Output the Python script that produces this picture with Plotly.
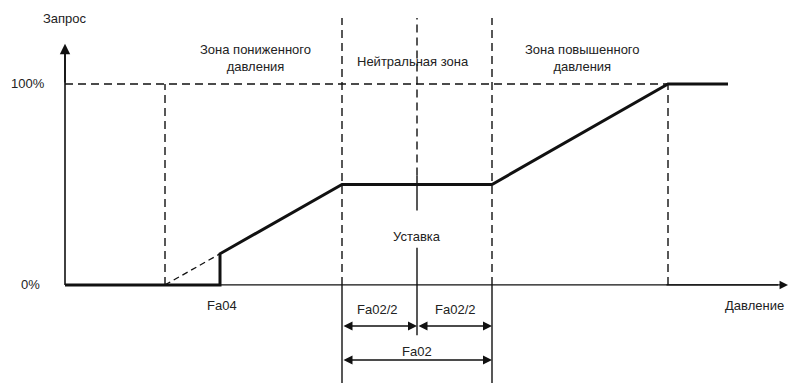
import plotly.graph_objects as go

# давление (условные единицы), запрос в %
x_curve = [0, 155, 155, 277, 427, 603, 663]
y_curve = [0, 0, 15.5, 50, 50, 100, 100]
x_ext = [100, 155]
y_ext = [0, 15.5]

x_low = 100        # начало зоны пониженного давления
x_fa04 = 155
x_nl = 277         # левая граница нейтральной зоны
x_set = 352        # уставка
x_nr = 427         # правая граница нейтральной зоны
x_full = 603       # 100 %
x_end = 723
y_top = 132.8
y_bot = -55

BLK = "#111"
FONT = dict(family="Liberation Sans, Arial", size=13, color="#222")
DASH = "8px,5px"

fig = go.Figure()

def line(xs, ys, width=1.4, dash="solid"):
    fig.add_trace(go.Scatter(x=xs, y=ys, mode="lines", hoverinfo="skip",
                             line=dict(color=BLK, width=width, dash=dash)))

# пунктирные вспомогательные линии
line([0, x_full], [100, 100], dash=DASH)
line([x_low, x_low], [0, 100], dash=DASH)
line([x_full, x_full], [0, 100], dash=DASH)
line([x_nl, x_nl], [0, y_top], dash=DASH)
line([x_nr, x_nr], [0, y_top], dash=DASH)
line([x_nl, x_nl], [0, y_bot])
line([x_nr, x_nr], [0, y_bot])
line([x_set, x_set], [54.5, y_top], dash=DASH)
line([x_set, x_set], [37, 54.5])
line([x_set, x_set], [18.5, -25])
line(x_ext, y_ext, width=1.3, dash="6px,4px")

# оси
line([0, 0], [0, 115], width=1.6)
line([0, x_end - 10], [0, 0], width=1.3)

# характеристика
line(x_curve, y_curve, width=3)

ann = []
def arrow(x0, y0, x1, y1, both=False, size=1.0, w=1.5):
    a = dict(x=x1, y=y1, ax=x0, ay=y0, xref="x", yref="y", axref="x", ayref="y",
             text="", showarrow=True, arrowhead=2, arrowsize=size, arrowwidth=w,
             arrowcolor=BLK)
    if both:
        a.update(arrowside="end+start", startarrowhead=2, startarrowsize=size)
    ann.append(a)

arrow(0, 100, 0, 120, size=1.3, w=1.6)
arrow(600, 0, x_end, 0, size=1.3, w=1.3)
arrow(x_nl, -20.4, x_set, -20.4, both=True, size=1.2, w=1.5)
arrow(x_set, -20.4, x_nr, -20.4, both=True, size=1.2, w=1.5)
arrow(x_nl, -37.3, x_nr, -37.3, both=True, size=1.2, w=1.5)

def label(x, y, t, xa="center"):
    ann.append(dict(x=x, y=y, xref="x", yref="y", text=t, showarrow=False,
                    xanchor=xa, yanchor="middle", font=FONT))

label(0, 132.8, "Запрос")
label(-18, 100, "100%", "right")
label(-23, 0, "0%", "right")
label(190, 112.7, "Зона пониженного<br>давления")
label(348, 111, "Нейтральная зона")
label(517, 113, "Зона повышенного<br>давления")
label(x_set, 23.9, "Уставка")
label(157, -10, "Fa04")
label(312, -12.4, "Fa02/2")
label(390, -12.4, "Fa02/2")
label(x_set, -33.3, "Fa02")
label(721, -10.4, "Давление", "right")

fig.update_layout(
    width=790, height=383, margin=dict(l=0, r=0, t=0, b=0),
    plot_bgcolor="white", paper_bgcolor="white", showlegend=False,
    xaxis=dict(range=[-65, 725], visible=False, fixedrange=True),
    yaxis=dict(range=[-48.8, 141.8], visible=False, fixedrange=True),
    annotations=ann,
)
# убираем отступ body, чтобы рисунок занимал окно целиком
fig.write_html("out.html", config={"displayModeBar": False},
               post_script="document.body.style.margin='0';document.body.style.overflow='hidden';")
